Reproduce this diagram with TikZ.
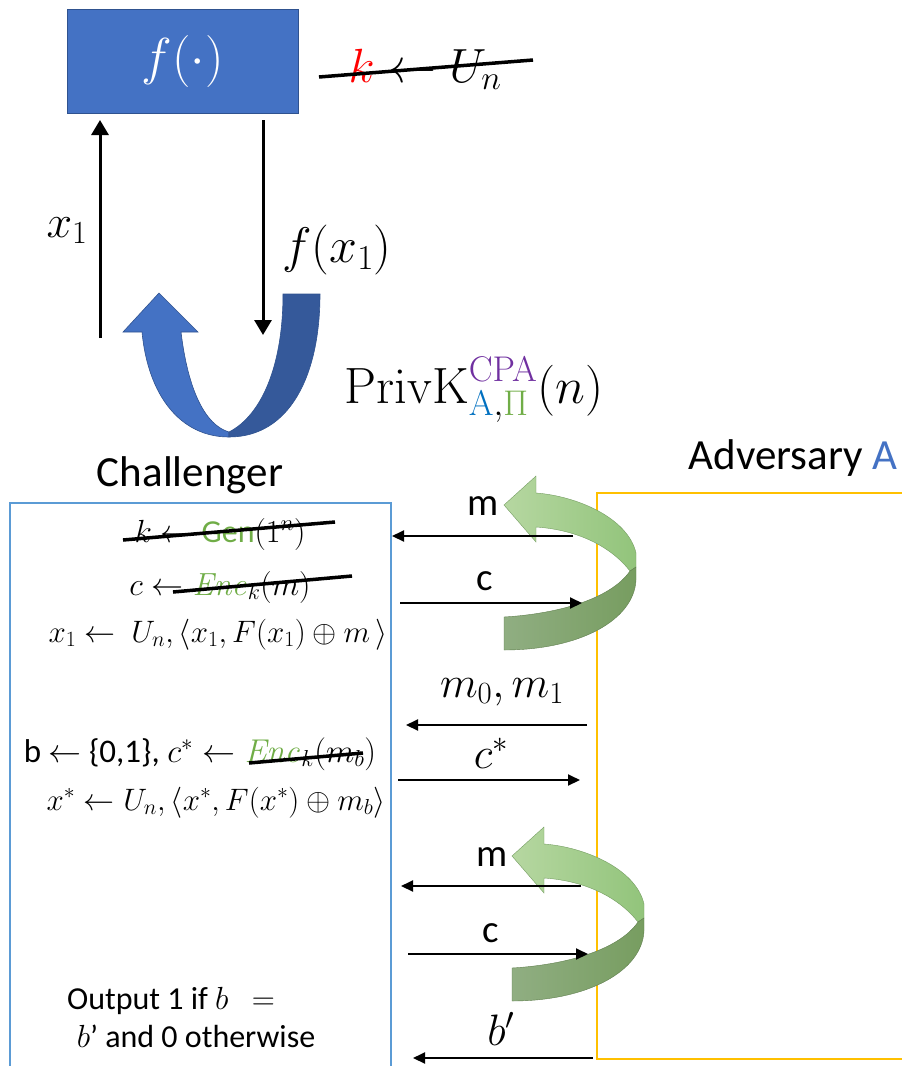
\RequirePackage{fix-cm}
\documentclass[tikz,border=0pt]{standalone}
\usepackage[no-math]{fontspec}
\setmainfont{Carlito}
\usetikzlibrary{arrows.meta}
\definecolor{boxblue}{HTML}{4472C4}
\definecolor{boxblueborder}{HTML}{2F528F}
\definecolor{darkblue}{HTML}{35599A}
\definecolor{chblue}{HTML}{5B9BD5}
\definecolor{advorange}{HTML}{FFC000}
\definecolor{encgreen}{HTML}{70AD47}
\definecolor{cpapurple}{HTML}{7030A0}
\definecolor{subblue}{HTML}{0070C0}
\definecolor{gll}{HTML}{B6D7A1}
\definecolor{glr}{HTML}{92C47B}
\definecolor{gdl}{HTML}{90AE82}
\definecolor{gdr}{HTML}{779D60}
\newcommand{\fs}[1]{\fontsize{#1}{#1}\selectfont}
\begin{document}
\begin{tikzpicture}[x=1pt,y=-1pt,
  txt/.style={inner sep=0pt, anchor=base},
  strike/.style={line width=3.5pt, black},
  bigarrow/.style={line width=3pt, -{Triangle[length=15pt,width=17pt]}},
  msgarrow/.style={line width=2pt, -{Triangle[length=12pt,width=11pt]}},
  lightribbon/.style={left color=gll, right color=glr, draw=glr!80!black, line width=0.4pt},
  darkribbon/.style={left color=gdl, right color=gdr, draw=gdr!80!black, line width=0.4pt}
]
\useasboundingbox (0,0) rectangle (902,1066);

% boxes
\node[draw=chblue, line width=1.5pt, minimum width=381pt, minimum height=600pt, anchor=north west, inner sep=0pt] (chbox) at (9,502) {};
\node[draw=advorange, line width=1.8pt, minimum width=330pt, minimum height=566pt, anchor=north west, inner sep=0pt] (advbox) at (596,492) {};

% function box
\node[draw=boxblueborder, fill=boxblue, line width=1pt, minimum width=231pt, minimum height=104pt, inner sep=0pt, text=white, font={\fs{52}}] (fbox) at (182.5,61) {$f(\cdot)$};

% key label
\node[txt, font={\fs{48}}] (keygen) at (425,82) {$\textcolor{red}{k}\leftarrow U_n$};
\draw[strike] (319,77) -- (533,60);

% U-turn arrow
\fill[boxblue, draw=boxblueborder, line width=0.6pt]
  (123,332) -- (159,293) -- (198,332) -- (181,332)
  .. controls (188,390) and (205,425) .. (229,432) -- (229,437)
  .. controls (180,437) and (148,395) .. (142,332) -- cycle;
\fill[darkblue, draw=boxblueborder, line width=0.6pt]
  (283,294) -- (320,294) .. controls (320,375) and (290,437) .. (229,437)
  -- (229,432) .. controls (262,415) and (283,365) .. (283,294) -- cycle;

% up / down arrows
\coordinate (upS) at (100,338);
\coordinate (upE) at (100,120);
\coordinate (dnS) at (263,120);
\coordinate (dnE) at (263,335);
\draw[bigarrow] (upS) -- (upE);
\draw[bigarrow] (dnS) -- (dnE);
\node[txt, font={\fs{46}}] (xlab) at (67,237) {$x_1$};
\node[txt, font={\fs{50}}] (fxlab) at (337,262) {$f(x_1)$};

% PrivK
\node[txt, font={\fs{51}}] (privk) at (474,403)
  {$\mathrm{PrivK}^{\textcolor{cpapurple}{\mathrm{CPA}}}_{\textcolor{subblue}{\mathrm{A}},\textcolor{encgreen}{\Pi}}(n)$};

% titles
\node[txt, font={\fs{43}}] (chal) at (190,486) {Challenger};
\node[txt, font={\fs{43}}] (adv) at (793,469) {Adversary \textcolor{boxblue}{A}};

% green ribbons
\foreach \dx/\dy in {0/0, 8/351} {
\begin{scope}[shift={(\dx,\dy)}]
\path[lightribbon]
  (504,505) -- (536,476) -- (536,493)
  .. controls (577,496) and (628,518) .. (636,553) -- (636,567) -- (630,571)
  .. controls (612,548) and (580,530) .. (536,527) -- (536,542) -- cycle;
\path[darkribbon]
  (504,617) .. controls (555,614) and (610,600) .. (630,571) -- (636,567) -- (636,580)
  .. controls (634,620) and (580,650) .. (504,650) -- cycle;
\end{scope}
}

% message arrows
\coordinate (a1s) at (573,536); \coordinate (a1e) at (392,536);
\coordinate (a2s) at (400,603); \coordinate (a2e) at (582,603);
\coordinate (a3s) at (587,725); \coordinate (a3e) at (406,725);
\coordinate (a4s) at (398,780); \coordinate (a4e) at (580,780);
\coordinate (a5s) at (581,886); \coordinate (a5e) at (401,886);
\coordinate (a6s) at (408,954); \coordinate (a6e) at (588,954);
\coordinate (a7s) at (593,1058); \coordinate (a7e) at (413,1058);
\foreach \i in {1,...,7} { \draw[msgarrow] (a\i s) -- (a\i e); }

% message labels
\node[txt, font={\fs{39}}] (lm1) at (483,515) {m};
\node[txt, font={\fs{39}}] (lc1) at (485,590) {c};
\node[txt, font={\fs{44}}] (lm01) at (502,697) {$m_0,m_1$};
\node[txt, font={\fs{44}}] (lcs) at (491,768) {$c^*$};
\node[txt, font={\fs{39}}] (lm2) at (492,866) {m};
\node[txt, font={\fs{39}}] (lc2) at (491,942) {c};
\node[txt, font={\fs{44}}] (lbp) at (501,1045) {$b'$};

% challenger lines
\node[txt, font={\fs{32}}] (l1) at (220,542) {$k\leftarrow \mbox{\textcolor{encgreen}{Gen}}(1^n)$};
\draw[strike] (123,540) -- (335,522);
\node[txt, font={\fs{32}}] (l2) at (220,595) {$c\leftarrow \textcolor{encgreen}{\mathit{Enc}}_k(m)$};
\draw[strike] (173,592) -- (352,576);
\node[txt, font={\fs{31}}] (l3) at (218,642) {$x_1\leftarrow\ U_n,\langle x_1,F(x_1)\oplus m\,\rangle$};
\node[txt, font={\fs{33}}] (l4) at (200,762) {b $\leftarrow$ \{0,1\}, $c^*\leftarrow \textcolor{encgreen}{\mathit{Enc}}_k(m_b)$};
\draw[strike] (249,763) -- (363,753);
\node[txt, font={\fs{31}}] (l5) at (216,810) {$x^*\leftarrow U_n,\langle x^*,F(x^*)\oplus m_b\rangle$};
\node[txt, font={\fs{32}}] (o1) at (171,1009) {Output 1 if $b\ \ =$};
\node[txt, font={\fs{32}}] (o2) at (196,1047) {$b$’ and 0 otherwise};
\end{tikzpicture}
\end{document}
